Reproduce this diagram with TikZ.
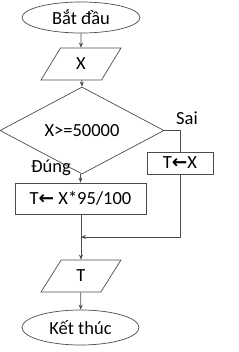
\documentclass[tikz,border=0pt]{standalone}
\usepackage{fontspec}
\setmainfont{Carlito}
\newfontfamily\symfont{DejaVu Sans}
\usetikzlibrary{shapes.geometric,arrows.meta}
\newcommand{\larr}{{\symfont\bfseries\char"2190}}
\begin{document}
\begin{tikzpicture}[x=1pt,y=-1pt,
  every node/.style={font=\fontsize{18.5}{21}\selectfont, text=black},
  shp/.style={draw=black!70, line width=0.7pt, inner sep=0pt},
  term/.style={shp, ellipse},
  io/.style={shp, trapezium, trapezium left angle=69, trapezium right angle=111, trapezium stretches=true},
  proc/.style={shp, rectangle},
  dec/.style={shp, diamond},
  ln/.style={draw=black!70, line width=0.7pt},
  arr/.style={ln, -{Stealth[length=5pt,width=4pt]}},
  lbl/.style={inner sep=0pt}
]
\useasboundingbox (0,0) rectangle (238,352);
\node[term, minimum width=118, minimum height=31] (start) at (81,17.5) {Bắt đầu};
\node[io, minimum width=80, minimum height=32] (inx) at (81,64) {X};
\node[dec, minimum width=164, minimum height=57] (cond) at (82,130.5) {X>=50000};
\node[proc, minimum width=66, minimum height=22] (pf) at (180,163) {T\larr X};
\node[proc, minimum width=131, minimum height=31] (pt) at (80.5,198.5) {T\larr{} X*95/100};
\node[io, minimum width=80, minimum height=32] (outt) at (81,276) {T};
\node[term, minimum width=117, minimum height=35] (stop) at (80.5,327.5) {Kết thúc};
\node[lbl] (sai) at (187,118) {Sai};
\node[lbl] (dung) at (51,168) {Đúng};
\coordinate (j) at (81,237);
\draw[arr] (start) -- (inx);
\draw[arr] (inx) -- (cond.north);
\draw[ln] (cond.east) -| (pf.north);
\draw[arr] (cond.south -| pt.north) -- (pt.north);
\draw[arr] (pf.south) |- (j);
\draw[arr] (pt.south -| j) -- (outt.north -| j);
\draw[arr] (outt) -- (stop);
\end{tikzpicture}
\end{document}
